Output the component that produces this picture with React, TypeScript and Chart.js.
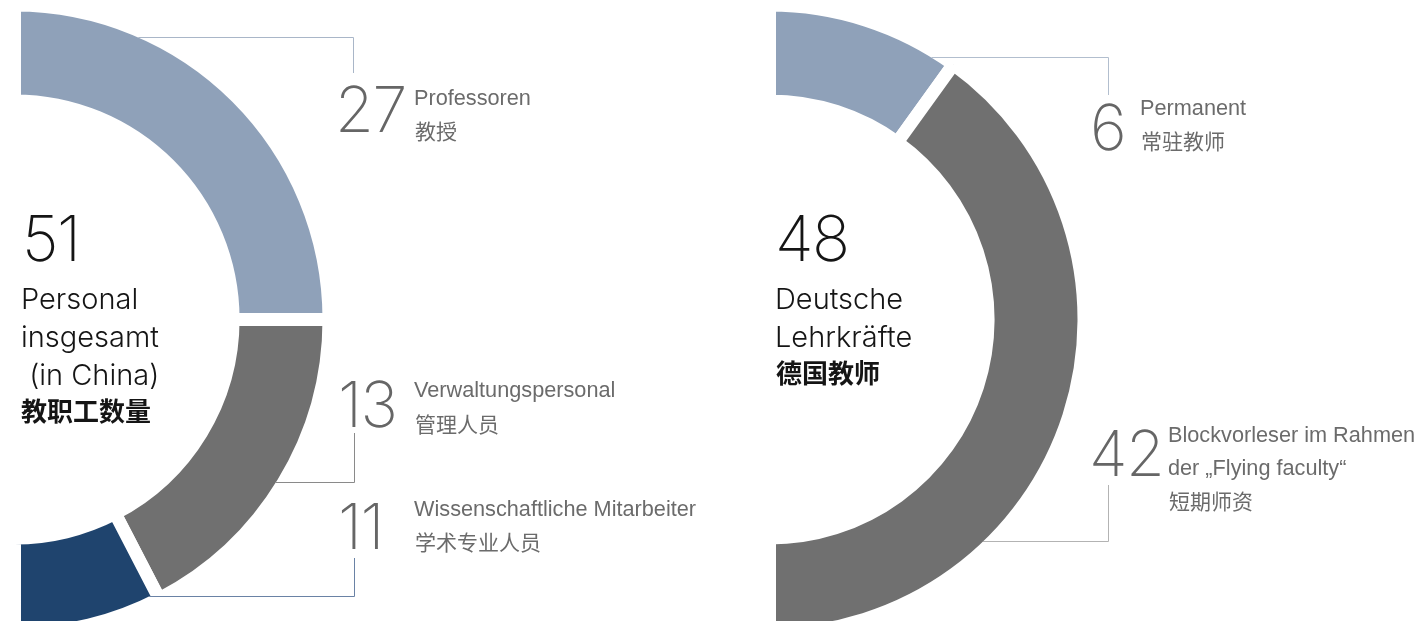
import React, { useEffect, useRef } from "react";
import { Chart, registerables } from "chart.js";

Chart.register(...registerables);

// ---------- data ----------
const leftCategories = ["Professoren", "Verwaltungspersonal", "Wissenschaftliche Mitarbeiter"];
const leftCategoriesZh = ["教授", "管理人员", "学术专业人员"];
const leftCounts = [27, 13, 11];
// angular share of the half ring as drawn in the picture (degrees)
const leftArcDegrees = [90, 62.6, 27.4];
const leftTitle = ["Personal", "insgesamt", " (in China)"];
const leftTitleZh = "教职工数量";

const rightCategories = [["Permanent"], ["Blockvorleser im Rahmen", "der „Flying faculty“"]];
const rightCategoriesZh = ["常驻教师", "短期师资"];
const rightCounts = [6, 42];
const rightArcDegrees = [35.8, 144.2];
const rightTitle = ["Deutsche", "Lehrkräfte"];
const rightTitleZh = "德国教师";

// ---------- styles ----------
const leftColors = ["#8fa1b9", "#707070", "#1f446e"];
const rightColors = ["#8fa1b9", "#707070"];
const leftLineColors = ["#a9b6c8", "#8a8a8a", "#6a82a5"];
const rightLineColors = ["#b2bece", "#b3b3b3"];

const W = 1420;
const H = 639;
const RADIUS = 314.5;
const CUTOUT = "69.5%";
const GAP = 13;
const LATIN = "Inter, 'Liberation Sans', Arial, sans-serif";
const LABEL = "'Liberation Sans', Arial, sans-serif";
const CJK = "'Noto Sans CJK SC', 'Noto Sans CJK JP', sans-serif";

type Leader = { elbowY: number; x: number; toY: number; color: string };

const leftLeaders: Leader[] = [
  { elbowY: 37.5, x: 353.5, toY: 73, color: leftLineColors[0] },
  { elbowY: 482.5, x: 354.5, toY: 433, color: leftLineColors[1] },
  { elbowY: 596.5, x: 354.5, toY: 558, color: leftLineColors[2] },
];
const rightLeaders: Leader[] = [
  { elbowY: 57.5, x: 1108.5, toY: 95, color: rightLineColors[0] },
  { elbowY: 541.5, x: 1108.5, toY: 485, color: rightLineColors[1] },
];

function leaderPlugin(lines: Leader[]) {
  return {
    id: "leaders",
    afterDatasetsDraw(chart: any) {
      const arc: any = chart.getDatasetMeta(0).data[0];
      if (!arc) return;
      const { x, y, outerRadius } = arc.getProps(["x", "y", "outerRadius"], true);
      const rv = outerRadius - GAP / 2;
      const ctx = chart.ctx;
      ctx.save();
      ctx.lineWidth = 1;
      for (const l of lines) {
        const dy = l.elbowY - y;
        const x0 = x + Math.sqrt(Math.max(rv * rv - dy * dy, 0));
        ctx.strokeStyle = l.color;
        ctx.beginPath();
        ctx.moveTo(x0, l.elbowY);
        ctx.lineTo(l.x, l.elbowY);
        ctx.lineTo(l.x, l.toY);
        ctx.stroke();
      }
      ctx.restore();
    },
  };
}

function makeConfig(labels: string[], values: number[], colors: string[], padding: any, lines: Leader[]): any {
  return {
    type: "doughnut",
    data: {
      labels,
      datasets: [
        {
          data: values,
          backgroundColor: colors,
          borderColor: "#ffffff",
          borderWidth: GAP,
          borderJoinStyle: "miter",
          hoverOffset: 0,
        },
      ],
    },
    options: {
      responsive: false,
      animation: false,
      events: [],
      rotation: 0,
      circumference: 180,
      radius: RADIUS,
      cutout: CUTOUT,
      layout: { padding },
      plugins: { legend: { display: false }, tooltip: { enabled: false } },
    },
    plugins: [leaderPlugin(lines)],
  };
}

const Txt = ({ x, y, size, weight = 400, color, family = LATIN, spacing = 0, children }: any) => (
  <div
    style={{
      position: "absolute",
      left: x,
      top: y,
      fontSize: size,
      fontWeight: weight,
      color,
      fontFamily: family,
      letterSpacing: spacing,
      lineHeight: 1,
      whiteSpace: "pre",
    }}
  >
    {children}
  </div>
);

const BIG = 63;
const BIG_LS = -1.5;
const LAB = 21.7;

export default function App() {
  const leftRef = useRef<HTMLCanvasElement>(null);
  const rightRef = useRef<HTMLCanvasElement>(null);

  useEffect(() => {
    const leftPad = { left: 0, right: W - 2 * (14.5 + RADIUS / 2), top: 0, bottom: 0 };
    const rightPad = { left: 2 * (769.5 + RADIUS / 2) - W, right: 0, top: 0, bottom: 0 };
    const c1 = new Chart(leftRef.current!, makeConfig(leftCategories, leftArcDegrees, leftColors, leftPad, leftLeaders));
    const c2 = new Chart(
      rightRef.current!,
      makeConfig(rightCategories.map((r) => r.join(" ")), rightArcDegrees, rightColors, rightPad, rightLeaders)
    );
    return () => {
      c1.destroy();
      c2.destroy();
    };
  }, []);

  const total = (a: number[]) => a.reduce((s, v) => s + v, 0);
  const numColor = "#666666";
  const labColor = "#6b6b6b";
  const black = "#151515";

  const leftLabelPos = [
    { nx: 335, ny: 77.5, tx: 414, ty: 86.5, zy: 120 },
    { nx: 338, ny: 373, tx: 414, ty: 379, zy: 413 },
    { nx: 338, ny: 495, tx: 414, ty: 497.5, zy: 531 },
  ];
  const rightLabelPos = [
    { nx: 1090, ny: 96, tx: 1140, ty: 96.5, zy: 130 },
    { nx: 1089, ny: 422, tx: 1168, ty: 423.5, zy: 490 },
  ];

  return (
    <div
      style={{
        position: "fixed",
        left: 0,
        top: 0,
        width: W,
        height: 621,
        overflow: "hidden",
        background: "#ffffff",
      }}
    >
      <canvas ref={leftRef} width={W} height={H} style={{ position: "absolute", left: 0, top: 0 }} />
      <canvas ref={rightRef} width={W} height={H} style={{ position: "absolute", left: 0, top: 0 }} />

      {/* left centre */}
      <Txt x={22} y={207} size={BIG} weight={200} spacing={BIG_LS} color={black}>{String(total(leftCounts))}</Txt>
      {leftTitle.map((t, i) => (
        <Txt key={t} x={21} y={284 + i * 38} size={29} weight={300} color={black}>{t}</Txt>
      ))}
      <Txt x={21} y={397} size={26} weight={700} color={black} family={CJK}>{leftTitleZh}</Txt>

      {/* right centre */}
      <Txt x={775} y={207} size={BIG} weight={200} spacing={BIG_LS} color={black}>{String(total(rightCounts))}</Txt>
      {rightTitle.map((t, i) => (
        <Txt key={t} x={775} y={284 + i * 38} size={29} weight={300} color={black}>{t}</Txt>
      ))}
      <Txt x={776} y={359} size={26} weight={700} color={black} family={CJK}>{rightTitleZh}</Txt>

      {/* left labels */}
      {leftCounts.map((v, i) => (
        <React.Fragment key={"l" + i}>
          <Txt x={leftLabelPos[i].nx} y={leftLabelPos[i].ny} size={BIG} weight={200} spacing={BIG_LS} color={numColor}>{String(v)}</Txt>
          <Txt x={leftLabelPos[i].tx} y={leftLabelPos[i].ty} size={LAB} color={labColor} family={LABEL}>{leftCategories[i]}</Txt>
          <Txt x={leftLabelPos[i].tx + 1} y={leftLabelPos[i].zy} size={21} color={labColor} family={CJK}>{leftCategoriesZh[i]}</Txt>
        </React.Fragment>
      ))}

      {/* right labels */}
      {rightCounts.map((v, i) => (
        <React.Fragment key={"r" + i}>
          <Txt x={rightLabelPos[i].nx} y={rightLabelPos[i].ny} size={BIG} weight={200} spacing={BIG_LS} color={numColor}>{String(v)}</Txt>
          {rightCategories[i].map((t, j) => (
            <Txt key={t} x={rightLabelPos[i].tx} y={rightLabelPos[i].ty + j * 33} size={LAB} color={labColor} family={LABEL}>{t}</Txt>
          ))}
          <Txt x={rightLabelPos[i].tx + 1} y={rightLabelPos[i].zy} size={21} color={labColor} family={CJK}>{rightCategoriesZh[i]}</Txt>
        </React.Fragment>
      ))}
    </div>
  );
}
